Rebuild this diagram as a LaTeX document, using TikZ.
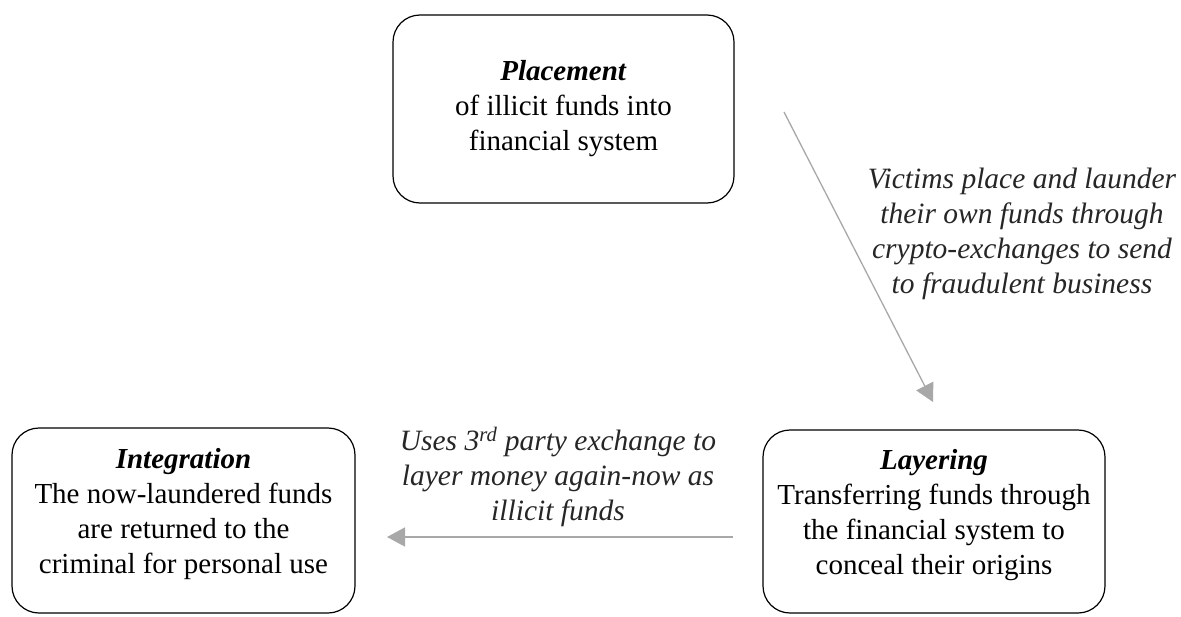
\documentclass[tikz,border=0pt]{standalone}
\usepackage{fontspec}
\setmainfont{Liberation Serif}
\usetikzlibrary{arrows.meta}
\definecolor{arrowgray}{HTML}{A8A8A8}
\definecolor{txtgray}{HTML}{262626}
\tikzset{
  stagebox/.style={draw=black, line width=1.2pt, rounded corners=27pt, align=center,
    font=\fontsize{29}{35}\selectfont, inner sep=0pt},
  flowarrow/.style={draw=arrowgray, line width=1.3pt, -{Triangle[length=18pt,width=19pt]}},
  note/.style={align=center, font=\fontsize{29.5}{35}\selectfont\itshape, text=txtgray}
}
\begin{document}
\begin{tikzpicture}[x=1pt,y=-1pt]
\useasboundingbox (0,0) rectangle (1181,616);
\node[stagebox, minimum width=341pt, minimum height=188pt] (place) at (563.5,109) {};
\node[align=center, font=\fontsize{29}{35}\selectfont] (placetxt) at (563.5,109) {\textbf{\textit{Placement}}\\of illicit funds into\\financial system};
\node[stagebox, minimum width=343pt, minimum height=185pt] (integ) at (183.5,520.5) {};
\node[align=center, font=\fontsize{29}{35}\selectfont] (integtxt) at (183.5,514) {\textbf{\textit{Integration}}\\The now-laundered funds\\are returned to the\\criminal for personal use};
\node[stagebox, minimum width=342pt, minimum height=183pt] (layer) at (934,521.5) {};
\node[align=center, font=\fontsize{29}{35}\selectfont] (layertxt) at (934,515) {\textbf{\textit{Layering}}\\Transferring funds through\\the financial system to\\conceal their origins};
\coordinate (a1s) at (784,112);
\coordinate (a1e) at (933,402);
\coordinate (a2s) at (733,537);
\coordinate (a2e) at (387,537);
\draw[flowarrow] (a1s) -- (a1e);
\draw[flowarrow] (a2s) -- (a2e);
\node[note] (note1) at (1022,234) {Victims place and launder\\their own funds through\\crypto-exchanges to send\\to fraudulent business};
\node[note] (note2) at (558,477) {Uses 3\textsuperscript{rd} party exchange to\\layer money again-now as\\illicit funds};
\end{tikzpicture}
\end{document}
